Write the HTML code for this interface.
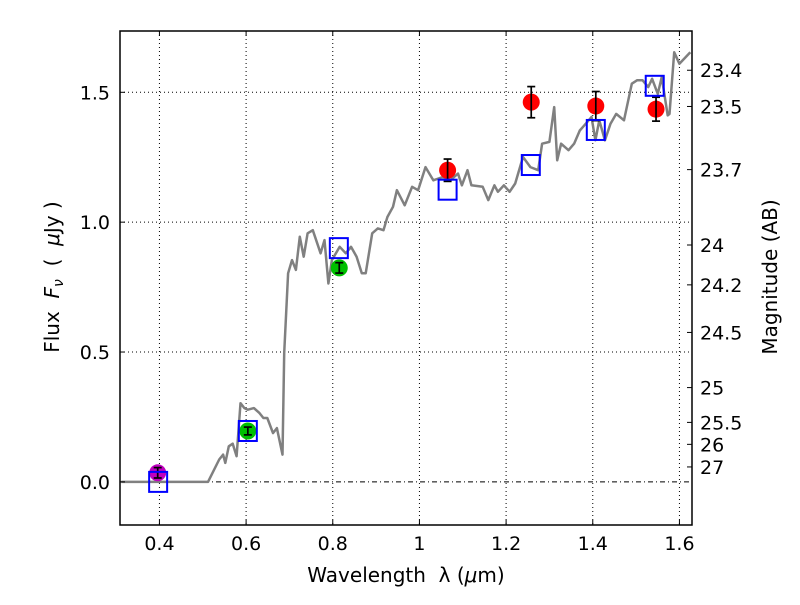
<!DOCTYPE html>
<html><head><meta charset="utf-8"><style>
html,body{margin:0;padding:0;background:#fff;}
svg text{font-family:"DejaVu Sans","Liberation Sans",sans-serif;fill:#000;}
</style></head><body>
<svg id="chart" width="800" height="600" viewBox="0 0 800 600" xmlns="http://www.w3.org/2000/svg">
<rect width="800" height="600" fill="#fff"/>
<g id="grid"></g>
<g id="spec"></g>
<g id="marks"></g>
<g id="axes"></g>
<text x="406" y="582" font-size="20" text-anchor="middle">Wavelength&#160;&#160;λ (<tspan font-style="italic">μ</tspan>m)</text>
<text transform="translate(59,277) rotate(-90)" font-size="20" text-anchor="middle">Flux&#160;&#160;<tspan font-style="italic">F</tspan><tspan font-style="italic" font-size="14" dy="4">ν</tspan><tspan dy="-4">&#160;&#160;(&#160;&#160;</tspan><tspan font-style="italic">μ</tspan>Jy&#160;)</text>
<text transform="translate(777,277) rotate(-90)" font-size="20" text-anchor="middle">Magnitude (AB)</text>
</svg>
<script>
const xTicks=[0.4,0.6,0.8,1.0,1.2,1.4,1.6];
const xTickLabels=["0.4","0.6","0.8","1","1.2","1.4","1.6"];
const yTicks=[0,0.5,1.0,1.5];
const yTickLabels=["0.0","0.5","1.0","1.5"];
const magTicks=[23.4,23.5,23.7,24,24.2,24.5,25,25.5,26,27];
const magLabels=["23.4","23.5","23.7","24","24.2","24.5","25","25.5","26","27"];
const specLam=[0.312,0.512,0.538,0.547,0.552,0.56,0.569,0.578,0.587,0.596,0.604,0.618,0.631,0.64,0.649,0.662,0.671,0.684,0.688,0.697,0.706,0.715,0.724,0.733,0.742,0.754,0.772,0.781,0.79,0.798,0.816,0.83,0.842,0.855,0.867,0.876,0.891,0.904,0.917,0.926,0.939,0.948,0.966,0.983,0.997,1.014,1.032,1.054,1.071,1.089,1.098,1.111,1.12,1.146,1.159,1.173,1.181,1.195,1.208,1.221,1.239,1.256,1.274,1.283,1.3,1.311,1.318,1.327,1.344,1.357,1.37,1.384,1.397,1.406,1.415,1.428,1.441,1.454,1.472,1.49,1.502,1.515,1.528,1.537,1.55,1.559,1.573,1.577,1.588,1.6,1.625];
const specFlux=[0,0,0.086,0.105,0.073,0.137,0.147,0.099,0.303,0.284,0.278,0.284,0.265,0.246,0.246,0.188,0.207,0.105,0.496,0.803,0.854,0.816,0.944,0.867,0.957,0.969,0.88,0.931,0.764,0.854,0.905,0.88,0.905,0.867,0.803,0.803,0.957,0.976,0.969,1.02,1.059,1.123,1.065,1.136,1.123,1.212,1.161,1.174,1.161,1.187,1.142,1.2,1.142,1.136,1.085,1.142,1.117,1.142,1.117,1.149,1.251,1.212,1.2,1.302,1.309,1.443,1.238,1.302,1.277,1.302,1.353,1.379,1.405,1.315,1.392,1.315,1.379,1.417,1.392,1.533,1.546,1.546,1.52,1.552,1.494,1.558,1.411,1.417,1.654,1.61,1.654];
const obsLam=[0.396,0.604,0.815,1.065,1.258,1.407,1.546];
const obsFlux=[0.035,0.196,0.824,1.2,1.462,1.447,1.435];
const obsErr=[0.02,0.015,0.02,0.043,0.06,0.056,0.046];
const obsColor=["#bf00bf","#00bf00","#00bf00","#ff0000","#ff0000","#ff0000","#ff0000"];
const modelLam=[0.397,0.604,0.814,1.065,1.257,1.407,1.543];
const modelFlux=[0.0,0.196,0.9,1.125,1.22,1.355,1.525];

const L=120,R=692,T=31,B=525;
const xmin=0.309,xmax=1.629,ymin=-0.166,ymax=1.736;
const X=v=>L+(v-xmin)/(xmax-xmin)*(R-L);
const Y=v=>B-(v-ymin)/(ymax-ymin)*(B-T);
const NS="http://www.w3.org/2000/svg";
function mk(tag,attrs,parent){const e=document.createElementNS(NS,tag);for(const k in attrs)e.setAttribute(k,attrs[k]);parent.appendChild(e);return e;}
const grid=document.getElementById('grid'),spec=document.getElementById('spec'),marks=document.getElementById('marks'),axes=document.getElementById('axes');

xTicks.forEach((v,i)=>{
  const g=mk('line',{x1:X(v),x2:X(v),y1:T,y2:B,stroke:'#000','stroke-width':1,'stroke-dasharray':'1,3'},grid);
  
  
  mk('line',{x1:X(v),x2:X(v),y1:B,y2:B-5,stroke:'#000'},axes);
  mk('line',{x1:X(v),x2:X(v),y1:T,y2:T+5,stroke:'#000'},axes);
  const t=mk('text',{x:X(v),y:B+25,'font-size':19,'text-anchor':'middle'},axes);
  t.textContent=xTickLabels[i];
  
  
});
yTicks.forEach((v,i)=>{
  const g=mk('line',{x1:L,x2:R,y1:Y(v),y2:Y(v),stroke:'#000','stroke-width':1,'stroke-dasharray':v===0?'5,3,1,3':'1,3'},grid);
  
  
  mk('line',{x1:L,x2:L+5,y1:Y(v),y2:Y(v),stroke:'#000'},axes);
  const t=mk('text',{x:L-10,y:Y(v)+7,'font-size':19,'text-anchor':'end'},axes);
  t.textContent=yTickLabels[i];
  
  
});
magTicks.forEach((m,i)=>{
  const f=Math.pow(10,(23.9-m)/2.5);
  mk('line',{x1:R-5,x2:R,y1:Y(f),y2:Y(f),stroke:'#000'},axes);
  const t=mk('text',{x:R+8,y:Y(f)+7,'font-size':19,'text-anchor':'start'},axes);
  t.textContent=magLabels[i];
  
  
});
const pts=specLam.map((l,i)=>X(l).toFixed(1)+','+Y(specFlux[i]).toFixed(1)).join(' ');
const pl=mk('polyline',{points:pts,fill:'none',stroke:'#808080','stroke-width':2.5,'stroke-linejoin':'round'},spec);



obsLam.forEach((l,i)=>{
  const cx=X(l),cy=Y(obsFlux[i]);
  const c=mk('circle',{cx:cx,cy:cy,r:8.5,fill:obsColor[i]},marks);
  
  
  const y1=Y(obsFlux[i]+obsErr[i]),y2=Y(obsFlux[i]-obsErr[i]);
  mk('line',{x1:cx,x2:cx,y1:y1,y2:y2,stroke:'#000','stroke-width':1.7},marks);
  mk('line',{x1:cx-4,x2:cx+4,y1:y1,y2:y1,stroke:'#000','stroke-width':1.7},marks);
  mk('line',{x1:cx-4,x2:cx+4,y1:y2,y2:y2,stroke:'#000','stroke-width':1.7},marks);
});
modelLam.forEach((l,i)=>{
  const s=mk('rect',{x:X(l)-9,y:Y(modelFlux[i])-10,width:18,height:20,fill:'none',stroke:'#0000ff','stroke-width':2},marks);
  
  
});
const fr=mk('rect',{x:L,y:T,width:R-L,height:B-T,fill:'none',stroke:'#000','stroke-width':1.5},axes);


</script>
</body></html>
